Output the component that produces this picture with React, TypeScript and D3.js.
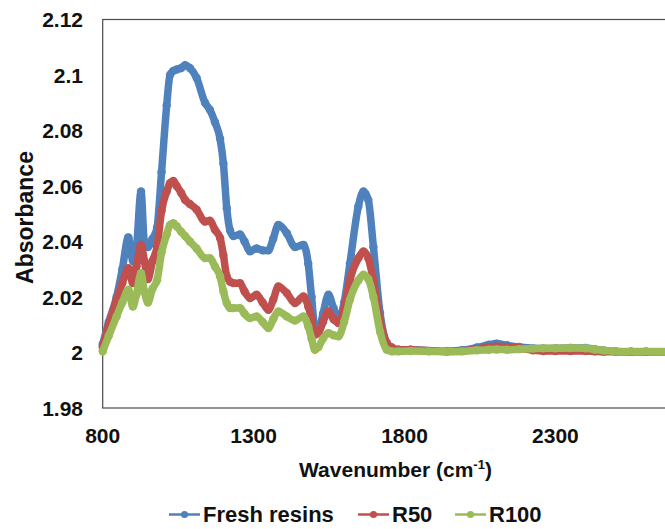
import React, { useEffect, useRef } from "react";
import * as d3 from "d3";

// Wavenumber positions (cm-1)
const wavenumbers = [
  800, 820, 846, 865, 885, 900, 912, 927, 938, 950, 965, 980, 995, 1012, 1023,
  1034, 1045, 1060, 1073, 1089, 1111, 1139, 1155, 1172, 1189, 1200, 1211, 1222,
  1233, 1255, 1270, 1288, 1310, 1330, 1349, 1365, 1382, 1410, 1437, 1465, 1481,
  1492, 1503, 1515, 1530, 1548, 1565, 1581, 1600, 1619, 1647, 1664, 1680, 1697,
  1719, 1741, 1758, 1780, 1820, 1880, 1940, 1990, 2040, 2080, 2105, 2140, 2180,
  2226, 2260, 2300, 2350, 2400, 2430, 2460, 2500, 2550, 2600, 2700, 2800,
];

const freshResins = [
  2.003, 2.011, 2.02, 2.03, 2.0415, 2.033, 2.038, 2.058, 2.04, 2.038, 2.041,
  2.045, 2.065, 2.089, 2.1, 2.1015, 2.102, 2.1025, 2.1035, 2.1025, 2.099, 2.09,
  2.0875, 2.083, 2.077, 2.068, 2.052, 2.044, 2.042, 2.0425, 2.04, 2.0365,
  2.0375, 2.0368, 2.0368, 2.041, 2.046, 2.043, 2.038, 2.0388, 2.032, 2.02,
  2.009, 2.008, 2.014, 2.0208, 2.016, 2.012, 2.018, 2.032, 2.0526, 2.058, 2.055,
  2.038, 2.0142, 2.0034, 2.0016, 2.001, 2.001, 2.0006, 2.0004, 2.0008, 2.0018,
  2.0028, 2.0032, 2.0026, 2.002, 2.0015, 2.0014, 2.0015, 2.0016, 2.0016,
  2.0012, 2.0007, 2.0004, 2.0003, 2.0003, 2.0003, 2.0003,
];

const r50 = [
  2.002, 2.01, 2.019, 2.025, 2.0304, 2.025, 2.031, 2.0388, 2.033, 2.0265, 2.033,
  2.038, 2.051, 2.058, 2.061, 2.0618, 2.06, 2.0575, 2.055, 2.0535, 2.0515,
  2.0472, 2.0475, 2.0442, 2.0412, 2.035, 2.0274, 2.0255, 2.025, 2.025, 2.022,
  2.0196, 2.0208, 2.018, 2.0154, 2.019, 2.0238, 2.0214, 2.0178, 2.0202, 2.0166,
  2.012, 2.0064, 2.007, 2.011, 2.0148, 2.012, 2.0106, 2.016, 2.0262, 2.034,
  2.0364, 2.034, 2.026, 2.0115, 2.0035, 2.0018, 2.001, 2.001, 2.0006, 2.0004,
  2.0006, 2.0012, 2.002, 2.0022, 2.002, 2.0016, 2.0008, 2.0005, 2.0005, 2.0005,
  2.0005, 2.0004, 2.0003, 2.0003, 2.0003, 2.0003, 2.0003, 2.0003,
];

const r100 = [
  2.0004, 2.006, 2.013, 2.018, 2.0226, 2.0166, 2.021, 2.0286, 2.022, 2.018,
  2.023, 2.026, 2.036, 2.0425, 2.046, 2.0466, 2.0455, 2.0435, 2.042, 2.04,
  2.0375, 2.034, 2.034, 2.031, 2.0274, 2.022, 2.0178, 2.016, 2.016, 2.016,
  2.014, 2.0124, 2.013, 2.011, 2.0088, 2.012, 2.0148, 2.013, 2.0115, 2.013,
  2.0094, 2.005, 2.001, 2.002, 2.005, 2.007, 2.0062, 2.0058, 2.011, 2.019,
  2.026, 2.028, 2.0265, 2.02, 2.0075, 2.001, 2.0004, 2.0004, 2.0005, 2.0004,
  2.0003, 2.0004, 2.0008, 2.001, 2.0011, 2.001, 2.0012, 2.0014, 2.0015, 2.0015,
  2.0016, 2.0015, 2.0011, 2.0007, 2.0004, 2.0004, 2.0004, 2.0004, 2.0004,
];

const seriesNames = ["Fresh resins", "R50", "R100"];
const seriesColors = ["#4F81BD", "#C0504D", "#9BBB59"];
// the 2800 tick falls outside the visible picture, so it is left out
const xTicks = [800, 1300, 1800, 2300];
const yTicks = [1.98, 2, 2.02, 2.04, 2.06, 2.08, 2.1, 2.12];

export default function App() {
  const svgRef = useRef<SVGSVGElement | null>(null);

  useEffect(() => {
    const width = 665;
    const height = 529;
    const left = 102.7;
    const top = 19.5;
    const bottom = 408;
    const font = "'Liberation Sans', Arial, sans-serif";

    const x = d3.scaleLinear().domain([800, 2800]).range([left, left + 2000 * 0.3018]);
    const y = d3.scaleLinear().domain([1.98, 2.12]).range([bottom, top]);

    const svg = d3.select(svgRef.current)
      .attr("width", width)
      .attr("height", height)
      .style("font-family", font);

    svg.selectAll("*").remove();

    svg.append("rect")
      .attr("width", width)
      .attr("height", height)
      .attr("fill", "white");

    // plot frame
    svg.append("rect")
      .attr("x", left)
      .attr("y", top)
      .attr("width", x(2800) - left)
      .attr("height", bottom - top)
      .attr("fill", "none")
      .attr("stroke", "#4a4a4a")
      .attr("stroke-width", 1.2);

    // tick labels
    svg.append("g")
      .selectAll("text")
      .data(yTicks)
      .join("text")
      .attr("x", 83)
      .attr("y", d => y(d))
      .attr("dy", "0.36em")
      .attr("text-anchor", "end")
      .attr("font-size", 21)
      .attr("font-weight", "bold")
      .attr("fill", "#111")
      .text(d => d3.format("~g")(d));

    svg.append("g")
      .selectAll("text")
      .data(xTicks)
      .join("text")
      .attr("x", d => x(d))
      .attr("y", 443)
      .attr("text-anchor", "middle")
      .attr("font-size", 21)
      .attr("font-weight", "bold")
      .attr("fill", "#111")
      .text(d => d);

    // axis titles
    const xt = svg.append("text")
      .attr("x", 395.5)
      .attr("y", 477)
      .attr("text-anchor", "middle")
      .attr("font-size", 21)
      .attr("font-weight", "bold")
      .attr("fill", "#111");
    xt.append("tspan").text("Wavenumber (cm");
    xt.append("tspan").attr("font-size", 13).attr("dy", -8).text("-1");
    xt.append("tspan").attr("dy", 8).text(")");

    svg.append("text")
      .attr("transform", "translate(33,217.5) rotate(-90)")
      .attr("text-anchor", "middle")
      .attr("font-size", 23)
      .attr("font-weight", "bold")
      .attr("fill", "#111")
      .text("Absorbance");

    // series
    const allSeries = [freshResins, r50, r100];
    const line = d3.line<number>()
      .x((_, i) => x(wavenumbers[i]))
      .y(d => y(d))
      .curve(d3.curveMonotoneX);

    allSeries.forEach((values, s) => {
      const g = svg.append("g");
      g.append("path")
        .datum(values)
        .attr("d", line)
        .attr("fill", "none")
        .attr("stroke", seriesColors[s])
        .attr("stroke-width", 7.5)
        .attr("stroke-linejoin", "round")
        .attr("stroke-linecap", "round");
      g.selectAll("circle")
        .data(values)
        .join("circle")
        .attr("cx", (_, i) => x(wavenumbers[i]))
        .attr("cy", d => y(d))
        .attr("r", 4.2)
        .attr("fill", seriesColors[s]);
    });

    // legend
    const legendX = [169, 358, 455];
    const legend = svg.append("g");
    seriesNames.forEach((name, s) => {
      const gx = legendX[s];
      legend.append("line")
        .attr("x1", gx)
        .attr("x2", gx + 31)
        .attr("y1", 514.5)
        .attr("y2", 514.5)
        .attr("stroke", seriesColors[s])
        .attr("stroke-width", 2.5);
      legend.append("circle")
        .attr("cx", gx + 15.5)
        .attr("cy", 514.5)
        .attr("r", 3.6)
        .attr("fill", seriesColors[s]);
      legend.append("text")
        .attr("x", gx + 34)
        .attr("y", 522)
        .attr("font-size", 22)
        .attr("font-weight", "bold")
        .attr("fill", "#111")
        .text(name);
    });

    return () => {
      d3.select(svgRef.current).selectAll("*").remove();
    };
  }, []);

  return (
    <div style={{ position: "absolute", left: 0, top: 0 }}>
      <svg ref={svgRef} style={{ display: "block" }} />
    </div>
  );
}
